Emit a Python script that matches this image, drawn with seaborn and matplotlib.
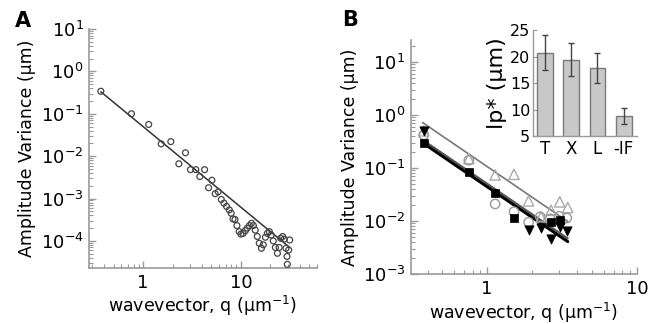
import numpy as np
import pandas as pd
import matplotlib
matplotlib.use("Agg")
import matplotlib.pyplot as plt
import matplotlib.ticker as mticker
import seaborn as sns

# ---- Panel A : amplitude variance vs wavevector (single cell)
qA = [0.37, 0.76, 1.14, 1.53, 1.92, 2.32, 2.71, 3.05, 3.46, 3.8, 4.25, 4.67, 5.05,
      5.46, 5.86, 6.3, 6.7, 7.13, 7.6, 7.95, 8.3, 8.7, 9.1, 9.6, 10.0, 10.5, 11.1,
      11.6, 12.2, 12.8, 13.4, 14.0, 14.7, 15.4, 16.2, 16.9, 17.8, 18.6, 19.5, 20.4,
      21.4, 22.5, 23.6, 24.6, 25.5, 26.7, 27.8, 28.9, 29.6, 29.8, 30.8, 31.5]
ampA = [0.34, 0.1, 0.056, 0.0195, 0.022, 0.0066, 0.012, 0.0048, 0.0048, 0.0033,
        0.0048, 0.0018, 0.0027, 0.0013, 0.00144, 0.00095, 0.00078, 0.00065, 0.00054,
        0.00045, 0.00033, 0.00032, 0.00023, 0.000166, 0.000145, 0.00015, 0.000174,
        0.0002, 0.00023, 0.00026, 0.00023, 0.00018, 0.000127, 0.000088, 0.000067,
        0.000081, 0.000122, 0.00015, 0.000166, 0.000138, 0.0001, 0.00007, 0.000051,
        0.00007, 0.000115, 0.000127, 0.00011, 0.000067, 0.000043, 0.000028,
        0.000061, 0.000105]
fitA_q = [0.37, 31.5]
fitA_amp = [0.33, 0.00007]

# ---- Panel B : several cell types
triB_q = [0.377, 0.754, 1.13, 1.51, 1.89, 2.29, 2.67, 3.05, 3.45]
triB_amp = [0.5, 0.15, 0.074, 0.076, 0.024, 0.012, 0.016, 0.023, 0.018]
circB_q = [0.377, 0.754, 1.13, 1.51, 1.89, 2.26, 2.64, 3.02, 3.4]
circB_amp = [0.42, 0.14, 0.021, 0.015, 0.0095, 0.012, 0.011, 0.0123, 0.0114]
sqB_q = [0.377, 0.754, 1.13, 1.51, 2.67, 3.05]
sqB_amp = [0.29, 0.085, 0.034, 0.0112, 0.0098, 0.0105]
dtriB_q = [0.377, 1.89, 2.29, 2.67, 3.05, 3.42]
dtriB_amp = [0.5, 0.0068, 0.0073, 0.0045, 0.0078, 0.0065]

fitB_q = [0.37, 3.45]
fitB_tri = [0.72, 0.0098]
fitB_black = [0.30, 0.0041]
fitB_dark = [0.34, 0.0047]

# ---- inset : persistence length
cells = ["T", "X", "L", "-IF"]
lp = [20.7, 19.4, 17.8, 8.8]
lp_err = [3.3, 3.1, 2.85, 1.5]

sns.set_style("white")
plt.rcParams["font.family"] = ["DejaVu Sans"]
plt.rcParams["text.color"] = "black"
plt.rcParams["axes.labelcolor"] = "black"
spine_c = "#9a9a9a"

fig = plt.figure(figsize=(6.56, 3.24), dpi=100)
axA = fig.add_axes([0.1357, 0.173, 0.3476, 0.7375])
axB = fig.add_axes([0.6265, 0.154, 0.3445, 0.723])
axI = fig.add_axes([0.8125, 0.58, 0.1585, 0.327])


def style_log(ax):
    ax.set_xscale("log")
    ax.set_yscale("log")
    for s in ["top", "right"]:
        ax.spines[s].set_visible(False)
    for s in ["left", "bottom"]:
        ax.spines[s].set_color(spine_c)
        ax.spines[s].set_linewidth(1.2)
    ax.tick_params(which="both", bottom=True, left=True, top=False, right=False)
    ax.tick_params(which="major", direction="in", length=5, width=1, color=spine_c,
                   labelsize=13, labelcolor="black", pad=4)
    ax.tick_params(which="minor", direction="in", length=3, width=0.8, color=spine_c)
    ax.xaxis.set_minor_formatter(mticker.NullFormatter())
    ax.yaxis.set_minor_formatter(mticker.NullFormatter())
    ax.yaxis.set_minor_locator(mticker.LogLocator(base=10, subs=np.arange(2, 10), numticks=20))
    ax.xaxis.set_minor_locator(mticker.LogLocator(base=10, subs=np.arange(2, 10), numticks=20))


# Panel A
style_log(axA)
sns.lineplot(x=fitA_q, y=fitA_amp, ax=axA, color="#333333", lw=1.1)
sns.scatterplot(x=qA, y=ampA, ax=axA, marker="o", s=18, facecolors="none",
                edgecolor="#444444", linewidth=0.9, zorder=3)
axA.set_xlim(0.28, 60)
axA.set_ylim(2.3e-5, 10)
axA.set_xticks([1, 10])
axA.set_xticklabels(["1", "10"])
axA.set_yticks([1e-4, 1e-3, 1e-2, 1e-1, 1, 10])
axA.set_xlabel("wavevector, q (\u03bcm$^{-1}$)", fontsize=12.5, labelpad=2)
axA.set_ylabel("Amplitude Variance (\u03bcm)", fontsize=12.5, labelpad=3)

# Panel B
style_log(axB)
sns.lineplot(x=fitB_q, y=fitB_tri, ax=axB, color="#777777", lw=1.2)
sns.lineplot(x=fitB_q, y=fitB_dark, ax=axB, color="#555555", lw=1.5)
sns.lineplot(x=fitB_q, y=fitB_black, ax=axB, color="black", lw=2.2)
sns.scatterplot(x=triB_q, y=triB_amp, ax=axB, marker="^", s=55, facecolors="none",
                edgecolor="#aaaaaa", linewidth=1.0, zorder=3)
sns.scatterplot(x=circB_q, y=circB_amp, ax=axB, marker="o", s=45, facecolors="none",
                edgecolor="#999999", linewidth=1.0, zorder=3)
sns.scatterplot(x=sqB_q, y=sqB_amp, ax=axB, marker="s", s=35, color="black",
                edgecolor="black", linewidth=0.5, zorder=4)
sns.scatterplot(x=dtriB_q, y=dtriB_amp, ax=axB, marker="v", s=45, color="black",
                edgecolor="black", linewidth=0.5, zorder=4)
axB.set_xlim(0.31, 10)
axB.set_ylim(1e-3, 26)
axB.set_xticks([1, 10])
axB.set_xticklabels(["1", "10"])
axB.set_yticks([1e-3, 1e-2, 1e-1, 1, 10])
axB.set_xlabel("wavevector, q (\u03bcm$^{-1}$)", fontsize=12.5, labelpad=2)
axB.set_ylabel("Amplitude Variance (\u03bcm)", fontsize=12.5, labelpad=3)

# inset
df = pd.DataFrame({"cell": cells, "lp": lp})
sns.barplot(data=df, x="cell", y="lp", ax=axI, color="#c8c8c8", edgecolor="#7a7a7a",
            linewidth=1.0, width=0.6, errorbar=None, saturation=1)
axI.errorbar(range(len(cells)), lp, yerr=lp_err, fmt="none", ecolor="#444444",
             elinewidth=1.0, capsize=2, capthick=1.0)
axI.set_ylim(5, 25)
axI.set_xlim(-0.45, 3.5)
axI.set_yticks([5, 10, 15, 20, 25])
for s in ["top", "right"]:
    axI.spines[s].set_visible(False)
for s in ["left", "bottom"]:
    axI.spines[s].set_color(spine_c)
    axI.spines[s].set_linewidth(1.0)
axI.tick_params(axis="y", left=True, direction="in", length=3, color=spine_c,
                labelsize=11.5, labelcolor="black", pad=2)
axI.tick_params(axis="x", length=0, labelsize=12, labelcolor="black", pad=3)
axI.set_xlabel("")
axI.set_ylabel("lp* (\u03bcm)", fontsize=16, labelpad=2)
axI.patch.set_alpha(0)

fig.text(0.022, 0.965, "A", fontsize=15, fontweight="bold", va="top")
fig.text(0.521, 0.97, "B", fontsize=15, fontweight="bold", va="top")

fig.savefig("out.png", dpi=100)
